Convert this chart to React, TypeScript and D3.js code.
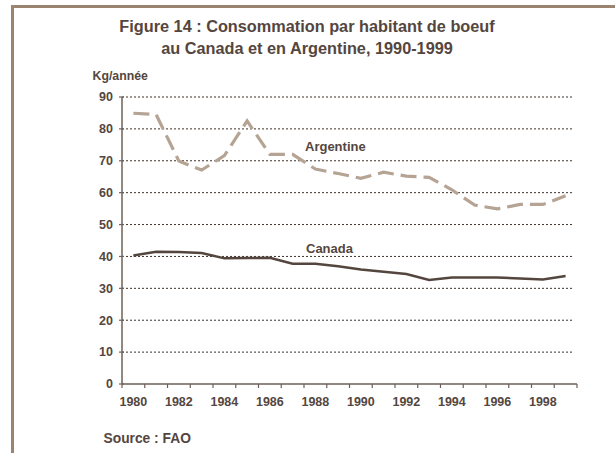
import React from "react";
import * as d3 from "d3";

const years = d3.range(1980, 2000).map(String);
const canada = [40.3, 41.5, 41.4, 41.1, 39.4, 39.5, 39.6, 37.7, 37.7, 36.9, 35.9, 35.2, 34.5, 32.6, 33.4, 33.4, 33.4, 33.1, 32.8, 33.9];
const argentine = [84.9, 84.5, 69.9, 67.1, 71.6, 82.5, 72.0, 72.0, 67.4, 66.0, 64.5, 66.4, 65.2, 64.8, 60.9, 56.1, 54.9, 56.3, 56.3, 59.0];
const yTicks = [0, 10, 20, 30, 40, 50, 60, 70, 80, 90];
const xLabelYears = ["1980", "1982", "1984", "1986", "1988", "1990", "1992", "1994", "1996", "1998"];

const FONT = "'Liberation Sans', Arial, Helvetica, sans-serif";
const TEXT = "#54463e";

export default function App() {
  const W = 615, H = 453;
  const left = 122, right = 577, top = 97, bottom = 384;
  const x = d3.scaleBand().domain(years).range([left, right]).padding(0);
  const y = d3.scaleLinear().domain([0, 90]).range([bottom, top]);
  const cx = (yr: string) => (x(yr) as number) + x.bandwidth() / 2;
  const line = d3.line<number>().x((_, i) => cx(years[i])).y((d) => y(d));
  const boundaries = years.map((yr) => x(yr) as number).concat([right]);

  return (
    <svg width={W} height={H} style={{ position: "absolute", left: 0, top: 0, background: "#fff" }} fontFamily={FONT}>
      <rect x={0} y={0} width={W} height={H} fill="#fff" />
      {/* frame */}
      <line x1={11} x2={W} y1={6.5} y2={6.5} stroke="#9a8470" strokeWidth={3} />
      <line x1={12.5} x2={12.5} y1={5} y2={H} stroke="#9a8470" strokeWidth={3} />

      <text x={307} y={32} textAnchor="middle" fontWeight="bold" fontSize={16.3} fill={TEXT}>
        Figure 14 : Consommation par habitant de boeuf
      </text>
      <text x={307} y={54} textAnchor="middle" fontWeight="bold" fontSize={16.3} fill={TEXT}>
        au Canada et en Argentine, 1990-1999
      </text>
      <text x={92.5} y={80} fontWeight="bold" fontSize={12.3} fill={TEXT}>Kg/année</text>

      {/* gridlines */}
      {yTicks.filter((t) => t > 0).map((t) => (
        <line key={t} x1={left} x2={right - 3} y1={y(t)} y2={y(t)} stroke="#3e322b" strokeWidth={1} strokeDasharray="2,2" />
      ))}

      {/* y axis */}
      <line x1={left} x2={left} y1={top} y2={bottom} stroke="#6e6058" strokeWidth={1.5} />
      {yTicks.map((t) => (
        <g key={t}>
          <line x1={left - 3} x2={left + 2} y1={y(t)} y2={y(t)} stroke="#6e6058" strokeWidth={1.2} />
          <text x={113} y={y(t) + 4.3} textAnchor="end" fontWeight="bold" fontSize={12.5} fill={TEXT}>{t}</text>
        </g>
      ))}

      {/* x axis */}
      <line x1={left} x2={right} y1={bottom} y2={bottom} stroke="#6e6058" strokeWidth={1.5} />
      {boundaries.map((b, i) => (
        <line key={i} x1={b} x2={b} y1={bottom} y2={bottom + 4} stroke="#6e6058" strokeWidth={1.2} />
      ))}
      {xLabelYears.map((yr) => (
        <text key={yr} x={cx(yr)} y={406} textAnchor="middle" fontWeight="bold" fontSize={12.5} fill={TEXT}>{yr}</text>
      ))}

      {/* series */}
      <path d={line(argentine) || ""} fill="none" stroke="#b5a393" strokeWidth={3.2} strokeDasharray="16,7" />
      <path d={line(canada) || ""} fill="none" stroke="#54463e" strokeWidth={2.5} />

      <text x={305} y={150.5} fontWeight="bold" fontSize={13} fill={TEXT}>Argentine</text>
      <text x={306} y={253} fontWeight="bold" fontSize={13} fill={TEXT}>Canada</text>

      <text x={103.5} y={443} fontWeight="bold" fontSize={13.8} fill={TEXT}>Source : FAO</text>
    </svg>
  );
}
